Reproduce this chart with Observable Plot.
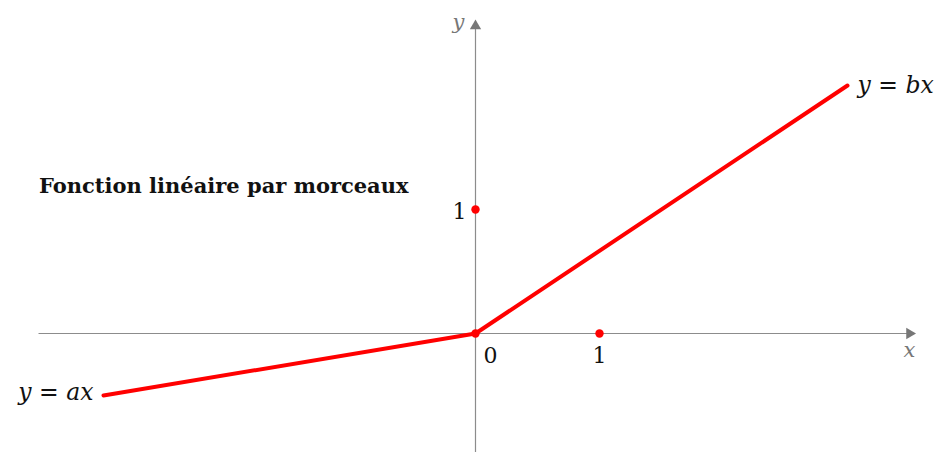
<!DOCTYPE html>
<html>
<head>
<meta charset="utf-8">
<script src="https://cdn.jsdelivr.net/npm/d3@7"></script>
<script src="https://cdn.jsdelivr.net/npm/@observablehq/plot@0.6"></script>
<style>
  html, body { margin: 0; padding: 0; background: #fff; }
  svg { display: block; }
</style>
</head>
<body>
<div id="chart"></div>
<script>
// piecewise linear function y = ax (x<0), y = bx (x>0)
const lineX = [-3, 0, 3];
const lineY = [-0.5, 0, 2];
// marked points
const pointX = [0, 1, 0];
const pointY = [0, 0, 1];
// tick labels
const originLabel = "0";
const xTickLabel = "1";
const yTickLabel = "1";
// axes extents
const xAxisRange = [-3.52, 3.5];
const yAxisRange = [-0.96, 2.48];
const title = "Fonction linéaire par morceaux";
const leftLabel = "y = ax";
const rightLabel = "y = bx";

const lineData = lineX.map((x, i) => ({x, y: lineY[i]}));
const pointData = pointX.map((x, i) => ({x, y: pointY[i]}));

const W = 939, H = 452, U = 124, OX = 475, OY = 333;
const serif = "'DejaVu Serif', 'Liberation Serif', serif";
const txt = (x, y, text, opts) => Plot.text([{x, y}], {x: "x", y: "y", text: () => text, fontFamily: serif, fontSize: 21, fill: "#111", ...opts});

const chart = Plot.plot({
  width: W,
  height: H,
  margin: 0,
  x: {domain: [-OX / U, (W - OX) / U], axis: null},
  y: {domain: [-(H - OY) / U, OY / U], axis: null},
  style: {background: "#fff"},
  marks: [
    // axes
    Plot.ruleY([0], {x1: xAxisRange[0], x2: xAxisRange[1], stroke: "#8c8c8c", strokeWidth: 1.2}),
    Plot.ruleX([0], {y1: yAxisRange[0], y2: yAxisRange[1], stroke: "#8c8c8c", strokeWidth: 1.2}),
    Plot.dot([{x: xAxisRange[1], y: 0}], {x: "x", y: "y", symbol: "triangle", r: 4.2, fill: "#777", stroke: null, rotate: 90}),
    Plot.dot([{x: 0, y: yAxisRange[1]}], {x: "x", y: "y", symbol: "triangle", r: 4.2, fill: "#777", stroke: null}),
    txt(xAxisRange[1], 0, "x", {dy: 17, fontStyle: "italic", fill: "#777"}),
    txt(0, yAxisRange[1], "y", {dx: -17, dy: -4, fontStyle: "italic", fill: "#777"}),
    // function
    Plot.line(lineData, {x: "x", y: "y", stroke: "#ff0000", strokeWidth: 4}),
    Plot.dot(pointData, {x: "x", y: "y", r: 4.2, fill: "#ff0000", stroke: null}),
    // tick labels
    txt(0, 0, originLabel, {dx: 15, dy: 22, fontSize: 22}),
    txt(1, 0, xTickLabel, {dy: 22, fontSize: 22}),
    txt(0, 1, yTickLabel, {dx: -16, dy: 2, fontSize: 22}),
    // line labels
    txt(-3, -0.5, leftLabel, {textAnchor: "end", dx: -10, dy: -3, fontStyle: "italic", fontSize: 23.5}),
    txt(3, 2, rightLabel, {textAnchor: "start", dx: 10, dy: 0, fontStyle: "italic", fontSize: 23.5}),
    // title
    txt(-3.52, 1.19, title, {textAnchor: "start", fontSize: 21, fontWeight: "bold"})
  ]
});
document.getElementById("chart").append(chart);
</script>
</body>
</html>
